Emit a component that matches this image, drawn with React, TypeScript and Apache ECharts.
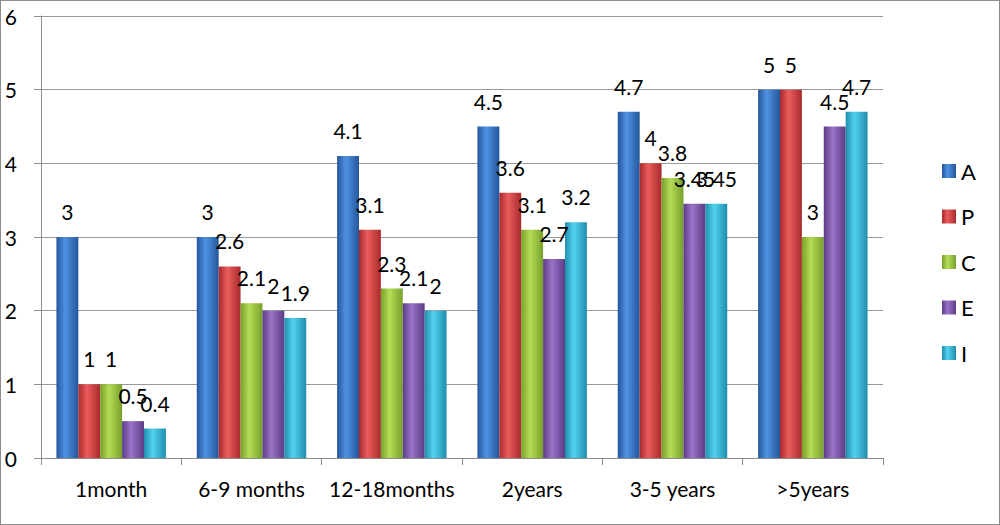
import React, { useRef, useEffect } from 'react';
import * as echarts from 'echarts';

const categories = ['1month', '6-9 months', '12-18months', '2years', '3-5 years', '>5years'];
const seriesNames = ['A', 'P', 'C', 'E', 'I'];
const valuesA = [3, 3, 4.1, 4.5, 4.7, 5];
const valuesP = [1, 2.6, 3.1, 3.6, 4, 5];
const valuesC = [1, 2.1, 2.3, 3.1, 3.8, 3];
const valuesE = [0.5, 2, 2.1, 2.7, 3.45, 4.5];
const valuesI = [0.4, 1.9, 2, 3.2, 3.45, 4.7];
const allValues = [valuesA, valuesP, valuesC, valuesE, valuesI];

// edge / centre shades give the cylinder look
const shades = [
  ['#24569c', '#4f92e2'],
  ['#a82a2c', '#ea5d5c'],
  ['#76a02a', '#b6dd57'],
  ['#5c3c86', '#9a74c8'],
  ['#1f8eac', '#52d2ef'],
];

const FONT = 'Lato, "Open Sans", sans-serif';

const App: React.FC = () => {
  const chartRef = useRef<HTMLDivElement>(null);

  useEffect(() => {
    if (!chartRef.current) return;
    const chart = echarts.init(chartRef.current, null, { renderer: 'svg' });

    const series = seriesNames.map((name, i) => ({
      name,
      type: 'bar' as const,
      data: allValues[i],
      barGap: '0%',
      barCategoryGap: '22%',
      itemStyle: {
        color: new echarts.graphic.LinearGradient(0, 0, 1, 0, [
          { offset: 0, color: shades[i][0] },
          { offset: 0.4, color: shades[i][1] },
          { offset: 1, color: shades[i][0] },
        ]),
      },
      label: {
        show: true,
        position: 'top' as const,
        distance: 15,
        color: '#000',
        fontSize: 21,
        fontFamily: FONT,
      },
    }));

    chart.setOption({
      animation: false,
      textStyle: { fontFamily: FONT },
      grid: { left: 40, right: 116, top: 15, bottom: 66 },
      legend: {
        orient: 'vertical',
        left: 936,
        top: 154,
        itemWidth: 14,
        itemHeight: 14,
        itemGap: 23.5,
        icon: 'rect',
        textStyle: { fontSize: 22, color: '#000', fontFamily: FONT },
        data: seriesNames,
      },
      xAxis: {
        type: 'category',
        data: categories,
        axisLine: { lineStyle: { color: '#8c8c8c' } },
        axisTick: { show: true, length: 7, lineStyle: { color: '#8c8c8c' } },
        axisLabel: { color: '#000', fontSize: 21, margin: 20, interval: 0, fontFamily: FONT },
      },
      yAxis: {
        type: 'value',
        min: 0,
        max: 6,
        interval: 1,
        axisLine: { show: true, lineStyle: { color: '#8c8c8c' } },
        axisTick: { show: true, length: 7, lineStyle: { color: '#8c8c8c' } },
        splitLine: { lineStyle: { color: '#9a9a9a' } },
        axisLabel: { color: '#000', fontSize: 21, margin: 24, fontFamily: FONT },
      },
      series,
    });

    return () => {
      chart.dispose();
    };
  }, []);

  return (
    <div
      style={{
        position: 'fixed',
        left: 0,
        top: 0,
        width: 1000,
        height: 525,
        boxSizing: 'border-box',
        border: '1px solid #8c8c8c',
        background: '#fff',
      }}
    >
      <div ref={chartRef} style={{ width: 998, height: 523 }} />
    </div>
  );
};

export default App;
